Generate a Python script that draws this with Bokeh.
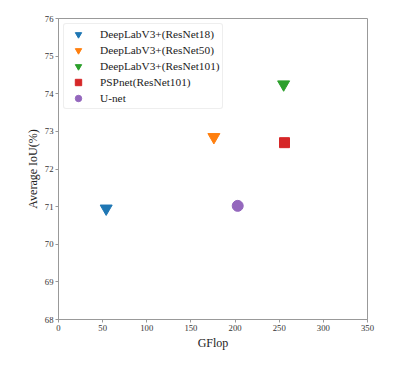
from bokeh.plotting import figure
from bokeh.models import Range1d, FixedTicker
from bokeh.embed import file_html
from bokeh.resources import INLINE

names = ["DeepLabV3+(ResNet18)", "DeepLabV3+(ResNet50)", "DeepLabV3+(ResNet101)", "PSPnet(ResNet101)", "U-net"]
gflop = [54, 176, 255, 256, 203]
iou = [70.95, 72.85, 74.25, 72.7, 71.02]
colors = ["#1f77b4", "#ff7f0e", "#2ca02c", "#d62728", "#9467bd"]
markers = ["inverted_triangle", "inverted_triangle", "inverted_triangle", "square", "circle"]
sizes = [12, 12, 12, 10, 11]
x_ticks = [0, 50, 100, 150, 200, 250, 300, 350]
y_ticks = [68, 69, 70, 71, 72, 73, 74, 75, 76]

FONT = "Liberation Serif"

p = figure(width=404, height=357, output_backend="svg", toolbar_location=None,
           x_range=Range1d(0, 350), y_range=Range1d(68, 76),
           min_border_left=58, min_border_right=37, min_border_top=18, min_border_bottom=38)

for n, xv, yv, c, m, s in zip(names, gflop, iou, colors, markers, sizes):
    p.scatter([xv], [yv], marker=m, size=s, fill_color=c, line_color=c, legend_label=n)

p.xaxis.ticker = FixedTicker(ticks=x_ticks)
p.yaxis.ticker = FixedTicker(ticks=y_ticks)
p.xgrid.visible = False
p.ygrid.visible = False
for ax in (p.xaxis[0], p.yaxis[0]):
    ax.major_label_text_font = FONT
    ax.major_label_text_font_size = "6.5pt"
    ax.major_label_text_color = "#333333"
    ax.axis_label_text_font = FONT
    ax.axis_label_text_font_style = "normal"
    ax.axis_label_text_font_size = "9pt"
    ax.axis_label_text_color = "#222222"
    ax.minor_tick_line_color = None
    ax.major_tick_out = 3
    ax.major_tick_in = 0
    ax.axis_line_color = "#999999"
    ax.major_tick_line_color = "#999999"
    ax.axis_label_standoff = 2
    ax.major_label_standoff = 2
p.xaxis.axis_label = "GFlop"
p.yaxis.axis_label = "Average IoU(%)"
p.outline_line_color = "#999999"
p.outline_line_width = 1

p.legend.location = "top_left"
p.legend.label_text_font = FONT
p.legend.label_text_font_size = "8.5pt"
p.legend.label_text_color = "#222222"
p.legend.border_line_color = "#dddddd"
p.legend.border_radius = 3
p.legend.glyph_height = 16
p.legend.label_height = 16
p.legend.spacing = 0
p.legend.padding = 2
p.legend.margin = 5
p.legend.glyph_width = 24
p.legend.label_standoff = 10

open("out.html", "w").write(file_html(p, INLINE))
